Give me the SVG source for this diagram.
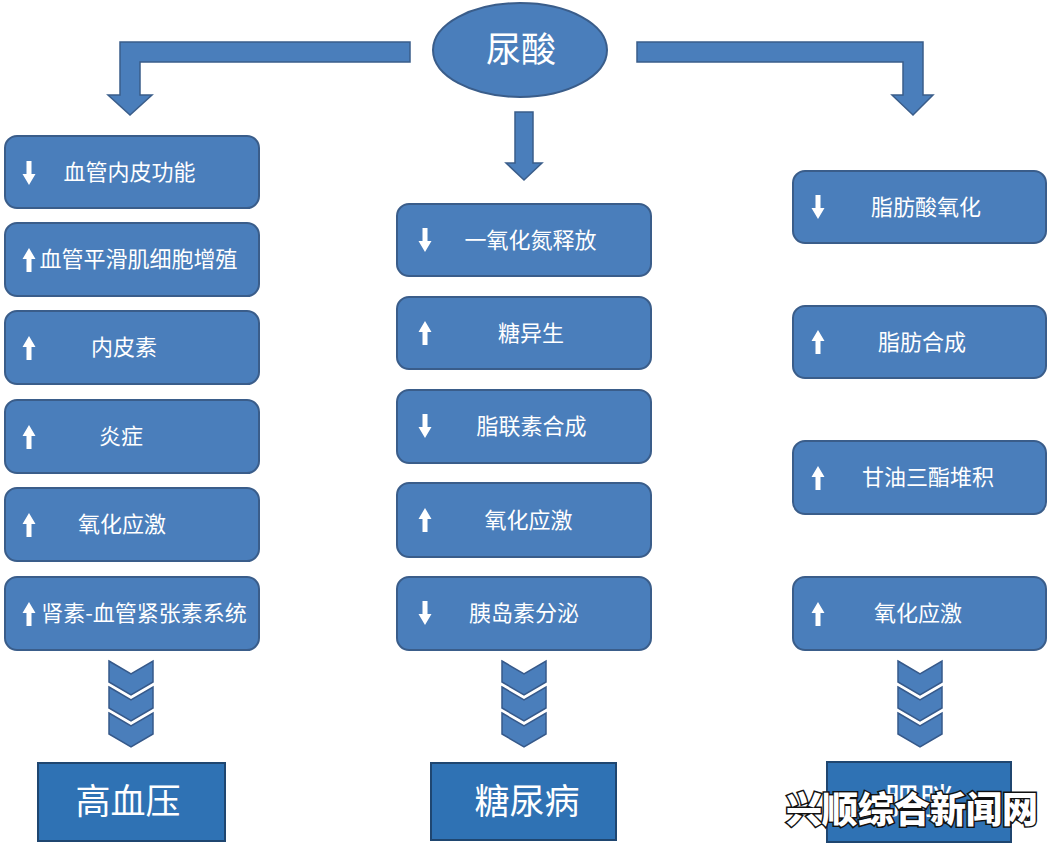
<svg xmlns="http://www.w3.org/2000/svg" width="1050" height="843" viewBox="0 0 1050 843">
<style>
.box{fill:#4a7ebb;stroke:#3a5d8a;stroke-width:2}
.res{fill:#2f72b4;stroke:#1f4670;stroke-width:2}
.arr{fill:#4a7ebb;stroke:#3a5d8a;stroke-width:1.5}
.chev{fill:#4a7ebb;stroke:#36598a;stroke-width:1.5;stroke-linejoin:miter}
.t{font-family:"Noto Sans CJK SC","Noto Sans",sans-serif;fill:#ffffff;font-size:22px;text-anchor:middle}
.tl{font-family:"Noto Sans CJK SC","Noto Sans",sans-serif;fill:#ffffff;font-size:35px;text-anchor:middle}
.ic{fill:#ffffff}
.wm{font-family:"Noto Sans CJK SC",sans-serif;font-weight:900;font-size:36px;fill:#ffffff;stroke:#111111;stroke-width:3;paint-order:stroke;text-anchor:middle}
</style>
<defs>
<path id="dn" d="M-2.5,-12 H2.5 V1 H6.5 L0,12 L-6.5,1 H-2.5 Z"/>
<path id="up" d="M-2.5,12 H2.5 V-1 H6.5 L0,-12 L-6.5,-1 H-2.5 Z"/>
<path id="chv" d="M-22,0 L0,13 L22,0 V21 L0,34 L-22,21 Z"/>
</defs>
<rect width="1050" height="843" fill="#ffffff"/>

<g id="connectors">
<path class="arr" d="M410,42 H120 V95 H108 L130,115 L152,95 H140 V62 H410 Z"/>
<path class="arr" d="M637,42 H923 V95 H933 L913,115 L892,95 H903 V62 H637 Z"/>
<path class="arr" d="M515,112 H533 V163 H542 L524,180 L506,163 H515 Z"/>
<g class="chev">
<use href="#chv" x="131" y="661"/><use href="#chv" x="131" y="687"/><use href="#chv" x="131" y="713"/>
<use href="#chv" x="524" y="661"/><use href="#chv" x="524" y="687"/><use href="#chv" x="524" y="713"/>
<use href="#chv" x="920" y="661"/><use href="#chv" x="920" y="687"/><use href="#chv" x="920" y="713"/>
</g>
</g>

<g id="uric">
<ellipse class="box" cx="520" cy="50" rx="87" ry="47"/>
<text class="tl" x="521" y="62">尿酸</text>
</g>

<g id="l1"><rect class="box" x="5" y="136" width="254" height="72" rx="12"/><use class="ic" href="#dn" x="29" y="173"/><text class="t" x="129.5" y="180">血管内皮功能</text></g>
<g id="l2"><rect class="box" x="5" y="223" width="254" height="73" rx="12"/><use class="ic" href="#up" x="29" y="260"/><text class="t" x="138.5" y="267">血管平滑肌细胞增殖</text></g>
<g id="l3"><rect class="box" x="5" y="311" width="254" height="73" rx="12"/><use class="ic" href="#up" x="29" y="348"/><text class="t" x="124" y="355">内皮素</text></g>
<g id="l4"><rect class="box" x="5" y="400" width="254" height="73" rx="12"/><use class="ic" href="#up" x="29" y="437"/><text class="t" x="121" y="444">炎症</text></g>
<g id="l5"><rect class="box" x="5" y="488" width="254" height="73" rx="12"/><use class="ic" href="#up" x="29" y="525"/><text class="t" x="122" y="532">氧化应激</text></g>
<g id="l6"><rect class="box" x="5" y="577" width="254" height="73" rx="12"/><use class="ic" href="#up" x="29" y="614"/><text class="t" x="144" y="621">肾素-血管紧张素系统</text></g>

<g id="m1"><rect class="box" x="397" y="204" width="254" height="72" rx="12"/><use class="ic" href="#dn" x="425" y="240"/><text class="t" x="530.5" y="248">一氧化氮释放</text></g>
<g id="m2"><rect class="box" x="397" y="297" width="254" height="72" rx="12"/><use class="ic" href="#up" x="425" y="333"/><text class="t" x="531" y="341">糖异生</text></g>
<g id="m3"><rect class="box" x="397" y="390" width="254" height="73" rx="12"/><use class="ic" href="#dn" x="425" y="426"/><text class="t" x="531.5" y="434">脂联素合成</text></g>
<g id="m4"><rect class="box" x="397" y="483" width="254" height="74" rx="12"/><use class="ic" href="#up" x="425" y="520"/><text class="t" x="528.5" y="528">氧化应激</text></g>
<g id="m5"><rect class="box" x="397" y="577" width="254" height="73" rx="12"/><use class="ic" href="#dn" x="425" y="613"/><text class="t" x="524" y="621">胰岛素分泌</text></g>

<g id="r1"><rect class="box" x="793" y="171" width="253" height="72" rx="12"/><use class="ic" href="#dn" x="818" y="207"/><text class="t" x="926" y="215">脂肪酸氧化</text></g>
<g id="r2"><rect class="box" x="793" y="306" width="253" height="72" rx="12"/><use class="ic" href="#up" x="818" y="342"/><text class="t" x="922" y="350">脂肪合成</text></g>
<g id="r3"><rect class="box" x="793" y="441" width="253" height="73" rx="12"/><use class="ic" href="#up" x="818" y="478"/><text class="t" x="928" y="485">甘油三酯堆积</text></g>
<g id="r4"><rect class="box" x="793" y="577" width="253" height="73" rx="12"/><use class="ic" href="#up" x="818" y="614"/><text class="t" x="918" y="621">氧化应激</text></g>

<g id="hypertension"><rect class="res" x="38" y="763" width="187" height="78"/><text class="tl" x="128" y="814">高血压</text></g>
<g id="diabetes"><rect class="res" x="431" y="763" width="185" height="77"/><text class="tl" x="527" y="814">糖尿病</text></g>
<g id="obesity"><rect class="res" x="827" y="762" width="184" height="80"/><text class="tl" x="919" y="814">肥胖</text></g>

<text class="wm" x="912" y="823">兴顺综合新闻网</text>
</svg>
